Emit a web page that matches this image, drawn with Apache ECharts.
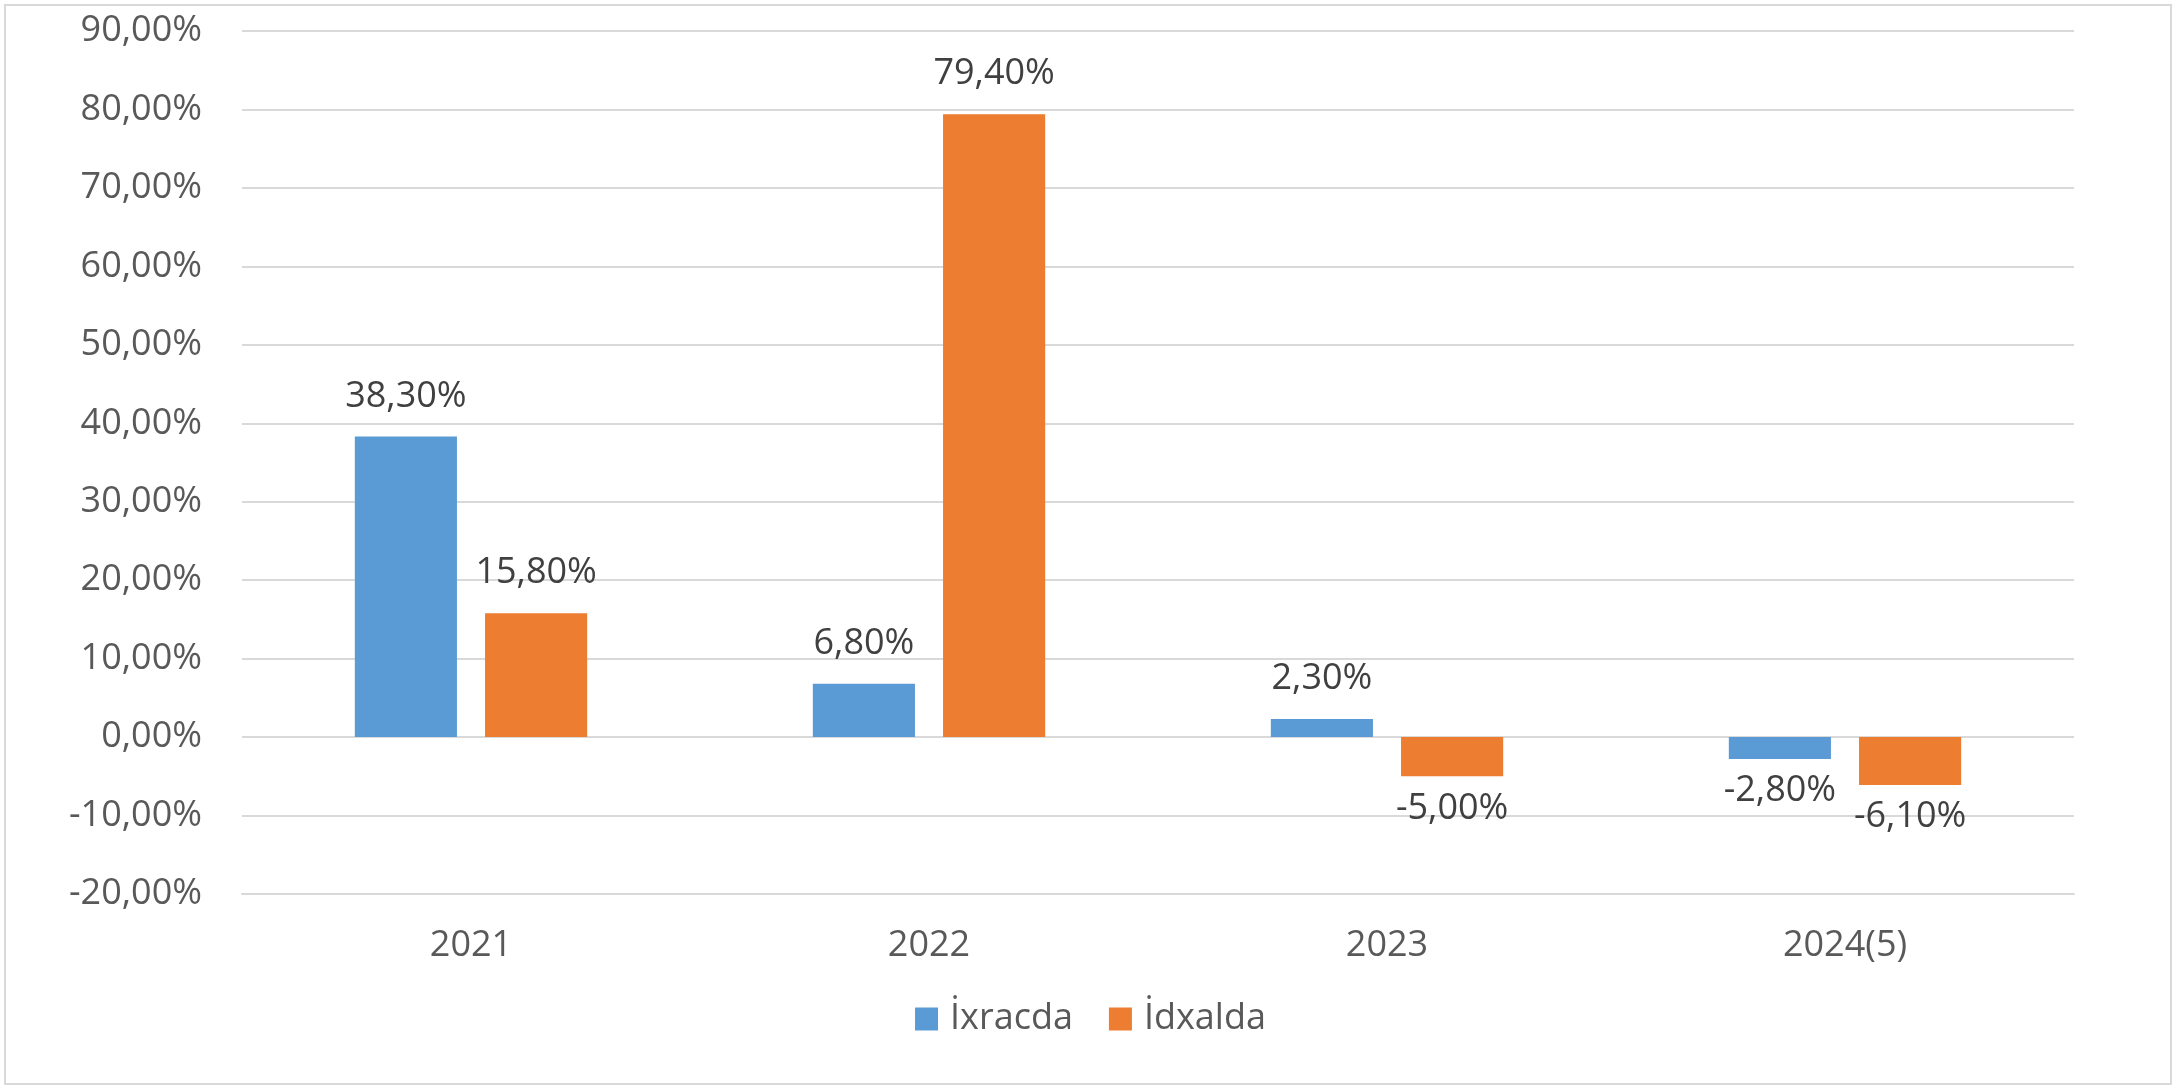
<!DOCTYPE html>
<html>
<head>
<meta charset="utf-8">
<script src="https://cdn.jsdelivr.net/npm/echarts@6/dist/echarts.min.js"></script>
<style>
  html, body { margin: 0; padding: 0; background: #fff; }
  #chart { width: 2181px; height: 1090px; }
</style>
</head>
<body>
<div id="chart"></div>
<script>
const categories = ['2021', '2022', '2023', '2024(5)'];
const exportValues = [38.3, 6.8, 2.3, -2.8];   // İxracda
const importValues = [15.8, 79.4, -5.0, -6.1]; // İdxalda
const seriesNames = ['İxracda', 'İdxalda'];
const yMin = -20, yMax = 90, yStep = 10;

const FONT = '"Open Sans", "Noto Sans", sans-serif';
const fmt = v => v.toFixed(2).replace('.', ',') + '%';

function buildData(values) {
  return values.map(v => ({
    value: v,
    label: v < 0
      ? { position: 'bottom', distance: 14 }
      : { position: 'top', distance: 22 }
  }));
}

const labelStyle = {
  show: true,
  fontFamily: FONT,
  fontSize: 36,
  color: '#404040',
  formatter: p => fmt(p.value)
};

const chart = echarts.init(document.getElementById('chart'), null, { renderer: 'canvas' });
chart.setOption({
  animation: false,
  backgroundColor: '#ffffff',
  textStyle: { fontFamily: FONT },
  graphic: [{
    type: 'rect',
    shape: { x: 5, y: 5, width: 2166, height: 1079 },
    style: { fill: 'none', stroke: '#d9d9d9', lineWidth: 2 },
    silent: true
  }],
  grid: { left: 242, right: 107, top: 31, bottom: 196, containLabel: false },
  legend: {
    data: seriesNames,
    left: 'center',
    top: 996,
    itemWidth: 23,
    itemHeight: 23,
    itemGap: 36,
    icon: 'rect',
    textStyle: { fontFamily: FONT, fontSize: 36, color: '#595959', padding: [0, 0, 0, 7] }
  },
  xAxis: {
    type: 'category',
    data: categories,
    axisLine: { onZero: false, lineStyle: { color: '#d9d9d9', width: 2 } },
    axisTick: { show: false },
    axisLabel: { fontFamily: FONT, fontSize: 36, color: '#595959', margin: 34 }
  },
  yAxis: {
    type: 'value',
    min: yMin,
    max: yMax,
    interval: yStep,
    axisLine: { show: false },
    axisTick: { show: false },
    splitLine: { lineStyle: { color: '#d9d9d9', width: 2 } },
    axisLabel: {
      fontFamily: FONT, fontSize: 36, color: '#595959', margin: 40,
      formatter: v => fmt(v)
    }
  },
  series: [
    {
      name: seriesNames[0],
      type: 'bar',
      data: buildData(exportValues),
      barWidth: '22.3%',
      barGap: '27.5%',
      itemStyle: { color: '#5B9BD5' },
      label: labelStyle
    },
    {
      name: seriesNames[1],
      type: 'bar',
      data: buildData(importValues),
      barWidth: '22.3%',
      barGap: '27.5%',
      itemStyle: { color: '#ED7D31' },
      label: labelStyle
    }
  ]
});
</script>
</body>
</html>
